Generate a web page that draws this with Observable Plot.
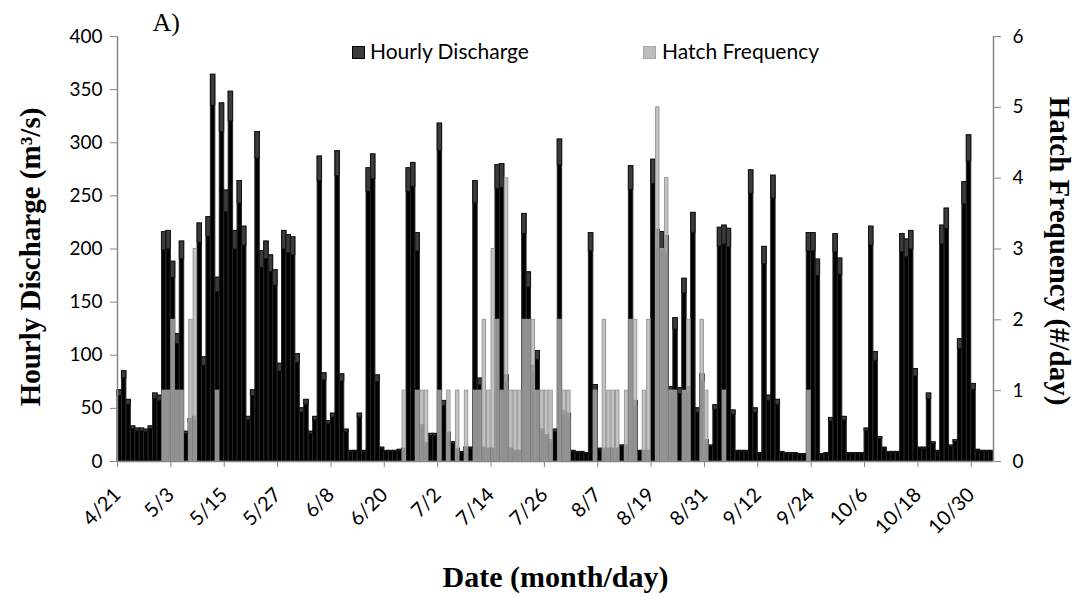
<!DOCTYPE html>
<html>
<head>
<meta charset="utf-8">
<script src="https://cdn.jsdelivr.net/npm/d3@7"></script>
<script src="https://cdn.jsdelivr.net/npm/@observablehq/plot@0.6"></script>
<style>
  html, body { margin: 0; padding: 0; background: #fff; }
  #wrap { position: relative; width: 1080px; height: 597px; overflow: hidden; }
  .leg { position: absolute; font-family: Lato, "Open Sans", sans-serif; font-size: 21px; color: #000; white-space: nowrap; }
  .sw { position: absolute; width: 11px; height: 11px; }
</style>
</head>
<body>
<div id="wrap"></div>
<script>
// ---- data ----
const startLabel = "4/21";            // first day of the record
const year = 2011;
// daily peak of hourly discharge (m3/s), one value per day from 4/21
const discharge = [
  67, 85, 58, 33, 31, 31, 30, 33, 64, 62, 216, 217,
  188, 120, 207, 28, 40, 42, 224, 98, 230, 364, 173, 337,
  255, 348, 217, 264, 221, 42, 67, 310, 198, 207, 194, 180,
  92, 217, 213, 211, 101, 50, 58, 28, 42, 287, 83, 38,
  45, 292, 82, 30, 10, 10, 45, 10, 276, 289, 81, 13,
  10, 10, 10, 11, 12, 276, 281, 215, 34, 17, 26, 26,
  318, 57, 27, 18, 12, 9, 13, 13, 264, 78, 13, 12,
  12, 279, 280, 81, 12, 10, 10, 233, 178, 90, 104, 30,
  25, 20, 30, 303, 47, 45, 10, 9, 9, 8, 215, 72,
  12, 12, 12, 12, 12, 15, 15, 278, 57, 10, 10, 10,
  284, 218, 216, 212, 70, 135, 69, 172, 70, 234, 50, 82,
  20, 15, 53, 220, 222, 219, 48, 10, 10, 10, 274, 50,
  8, 202, 62, 269, 58, 9, 8, 8, 8, 7, 7, 215,
  215, 190, 7, 8, 41, 214, 191, 42, 8, 8, 8, 8,
  31, 221, 103, 23, 13, 9, 9, 9, 214, 209, 217, 87,
  13, 13, 64, 18, 10, 222, 238, 15, 20, 115, 263, 307,
  73, 11, 10, 10, 10
];
// hatch frequency (#/day), same days
const hatch = [
  0, 0, 0, 0, 0, 0, 0, 0, 0, 0, 1, 1,
  2, 1, 1, 0, 2, 3, 0, 0, 0, 0, 1, 0,
  0, 0, 0, 0, 0, 0, 0, 0, 0, 0, 0, 0,
  0, 0, 0, 0, 0, 0, 0, 0, 0, 0, 0, 0,
  0, 0, 0, 0, 0, 0, 0, 0, 0, 0, 0, 0,
  0, 0, 0, 0, 1, 0, 0, 1, 1, 1, 0, 0,
  1, 0, 1, 0, 1, 0, 1, 0, 1, 1, 2, 1,
  3, 2, 1, 4, 1, 1, 1, 2, 2, 2, 1, 1,
  1, 1, 0, 2, 1, 1, 0, 0, 0, 0, 0, 1,
  0, 2, 1, 1, 1, 0, 1, 2, 2, 0, 1, 2,
  0, 5, 3, 4, 1, 1, 0, 1, 2, 0, 0, 2,
  1, 0, 0, 0, 1, 0, 0, 0, 0, 0, 0, 0,
  0, 0, 0, 0, 0, 0, 0, 0, 0, 0, 0, 1,
  0, 0, 0, 0, 0, 0, 0, 0, 0, 0, 0, 0,
  0, 0, 0, 0, 0, 0, 0, 0, 0, 0, 0, 0,
  0, 0, 0, 0, 0, 0, 0, 0, 0, 0, 0, 0,
  0, 0, 0, 0, 0
];
const xTickLabels = ["4/21","5/3","5/15","5/27","6/8","6/20","7/2","7/14","7/26","8/7","8/19","8/31","9/12","9/24","10/6","10/18","10/30"];
const yTicksLeft = [0, 50, 100, 150, 200, 250, 300, 350, 400];
const yTicksRight = [0, 1, 2, 3, 4, 5, 6];
const leftMax = 400, rightMax = 6;
const seriesNames = ["Hourly Discharge", "Hatch Frequency"];
const titles = { y: "Hourly Discharge (m³/s)", y2: "Hatch Frequency (#/day)", x: "Date (month/day)", panel: "A)" };

// ---- build ----
const parseMD = s => { const [m, d] = s.split("/").map(Number); return new Date(Date.UTC(year, m - 1, d)); };
const start = parseMD(startLabel);
const dayMs = 86400000;
const dayDate = i => new Date(start.getTime() + i * dayMs);
const nDays = discharge.length;
const end = dayDate(nDays);
const qData = discharge.map((v, i) => ({ d0: dayDate(i), d1: dayDate(i + 1), v }));
const hData = hatch.map((h, i) => ({ d0: dayDate(i), d1: dayDate(i + 1), h })).filter(d => d.h > 0);
const toLeft = h => h * leftMax / rightMax;
const tickDates = xTickLabels.map(parseMD);
const axisGray = "#868686";
const sans = "Lato, 'Open Sans', sans-serif";
const serif = "'Liberation Serif', 'Times New Roman', serif";

const chart = Plot.plot({
  width: 1080, height: 597,
  marginLeft: 117, marginRight: 87, marginTop: 36, marginBottom: 136,
  x: { type: "utc", domain: [start, end] },
  y: { domain: [0, leftMax] },
  style: { fontFamily: sans, fontSize: "19px", color: "#000", background: "transparent", overflow: "visible" },
  marks: [
    Plot.rect(qData, { x1: "d0", x2: "d1", y1: 0, y2: "v", fill: "#000", stroke: "#262626", strokeWidth: 1 }),
    Plot.rect(qData, { x1: "d0", x2: "d1", y1: d => d.v * 0.92, y2: "v", fill: "#3b3b3b", stroke: "#141414", strokeWidth: 1 }),
    Plot.rect(hData, { x1: "d0", x2: "d1", y1: 0, y2: d => toLeft(d.h), fill: "#b4b4b4", fillOpacity: 0.8, stroke: "#9a9a9a", strokeWidth: 1, insetLeft: 0.5, insetRight: 0.5 }),
    Plot.ruleY([0], { stroke: axisGray, strokeWidth: 1.5 }),
    Plot.ruleX([start], { stroke: axisGray, strokeWidth: 1.5 }),
    Plot.ruleX([end], { stroke: axisGray, strokeWidth: 1.5 }),
    Plot.axisY({ ticks: yTicksLeft, tickSize: 7, tickPadding: 8, stroke: axisGray, fill: "#000", label: null, fontSize: 19 }),
    Plot.axisY({ anchor: "right", ticks: yTicksRight.map(toLeft), tickFormat: d => String(Math.round(d * rightMax / leftMax)), tickSize: 7, tickPadding: 12, stroke: axisGray, fill: "#000", label: null, fontSize: 19 }),
    Plot.axisX({ ticks: tickDates, tickFormat: (d, i) => xTickLabels[i], tickRotate: -45, tickSize: 6, tickPadding: 24, stroke: axisGray, fill: "#000", label: null, fontSize: 20 }),
    Plot.text([titles.y], { frameAnchor: "left", textAnchor: "middle", dx: -87, dy: 8, rotate: -90, fontFamily: serif, fontWeight: "bold", fontSize: 29, fill: "#000" }),
    Plot.text([titles.y2], { frameAnchor: "right", textAnchor: "middle", dx: 66, dy: 2, rotate: 90, fontFamily: serif, fontWeight: "bold", fontSize: 29, fill: "#000" }),
    Plot.text([titles.x], { frameAnchor: "bottom", lineAnchor: "middle", dy: 116, fontFamily: serif, fontWeight: "bold", fontSize: 30, fill: "#000" }),
    Plot.text([titles.panel], { frameAnchor: "top-left", textAnchor: "start", lineAnchor: "middle", dx: 35, dy: -14, fontFamily: serif, fontSize: 26, fill: "#000" })
  ]
});

const wrap = document.getElementById("wrap");
wrap.appendChild(chart);

// legend
const legend = [
  { name: seriesNames[0], sx: 352, tx: 370, fill: "#3b3b3b", stroke: "#000" },
  { name: seriesNames[1], sx: 643, tx: 662, fill: "#bdbdbd", stroke: "#a6a6a6" }
];
legend.forEach(l => {
  const s = document.createElement("div");
  s.className = "sw";
  s.style.left = l.sx + "px"; s.style.top = "46px";
  s.style.background = l.fill; s.style.border = "1px solid " + l.stroke;
  wrap.appendChild(s);
  const t = document.createElement("div");
  t.className = "leg";
  t.style.left = l.tx + "px"; t.style.top = "38px";
  t.textContent = l.name;
  wrap.appendChild(t);
});
</script>
</body>
</html>
